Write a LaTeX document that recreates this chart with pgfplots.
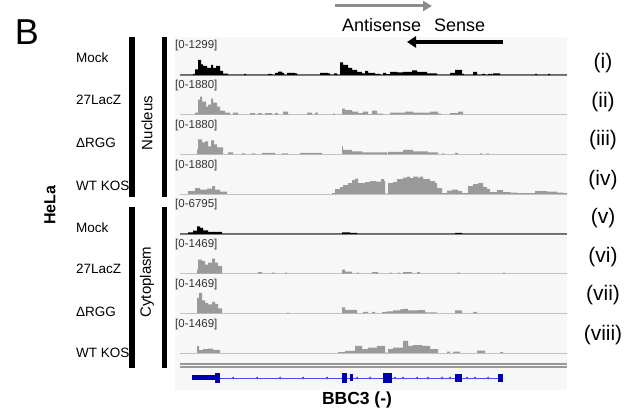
\documentclass[border=0pt]{standalone}
\usepackage{pgfplots}
\pgfplotsset{compat=1.18}
\usepackage{fontspec}
\setmainfont{Liberation Sans}
\usetikzlibrary{arrows.meta}

\definecolor{trkgray}{HTML}{9A9A9A}
\definecolor{bgcol}{HTML}{F7F7F7}
\definecolor{baselt}{HTML}{C8C8C8}
\definecolor{basedk}{HTML}{7A7A7A}
\definecolor{exon}{HTML}{0000B0}
\definecolor{intron}{HTML}{4A4AF0}

\pgfplotsset{trk/.style={anchor=south west, width=387pt, height=30pt,
    scale only axis, xmin=180, xmax=567, ymin=0, ymax=30,
    axis lines=none, clip=false}}

% #1 baseline (px from top), #2 fill, #3 range label, #4 data, #5 baseline style
\newcommand{\track}[5]{%
  \begin{axis}[trk, at={(180pt,{(419-#1)*1pt})}]
    \addplot[#5] coordinates {(180,0) (567,0)};
    \addplot[const plot, fill=#2, draw=none] coordinates {#4} \closedcycle;
    \node[anchor=west, inner sep=0pt, font=\fontsize{11.5}{11.5}\selectfont, text=black!80]
      at (axis cs:175,29) {#3};
  \end{axis}}

\begin{document}
\begin{tikzpicture}[x=1pt, y=1pt]
\path (0,0) rectangle (631,419);
\fill[bgcol] (175,382) rectangle (567,29);

% (i) nucleus mock
\track{75}{black}{[0-1299]}{(180,0)(193,1)(195,5.7)(198,15)(201,10.7)(203,9)(207,7)(211,10)(213,7)(216,9)(220,4)(223,1.3)(228,0)(244,1)(246,0)(268,1)(272,0)(275,2)(278,3.3)(282,2)(284,0)(287,2)(295,1.5)(297,0)(320,2)(328,1.5)(330,0)(334,1.5)(337,0)(340,12.5)(343,10)(348,7)(352,5)(357,3)(362,1.5)(365,4)(368,2)(375,1)(380,0)(383,2)(386,0.8)(390,3)(397,2.5)(403,3)(412,4.5)(417,3)(427,1.5)(437,0)(450,2)(455,5)(462,1)(464,0)(473,3)(477,0)(482,1)(485,0)(488,1)(492,0)(493,1.5)(500,0)(535,1)(537,0)(548,1)(550,0)(567,0)}{basedk, line width=1.3pt}

% (ii)
\track{114.75}{trkgray}{[0-1880]}{(180,0)(195,2)(198,15)(200,18)(202,13)(206,8)(208,10)(211,16)(213,12)(217,8)(220,4)(225,2)(230,0)(233,2)(238,0)(250,1.5)(255,0)(258,1.5)(262,0)(265,1.5)(272,0)(275,1.5)(278,0)(283,3)(288,0)(307,2)(312,0)(315,2)(318,0)(333,1)(335,0)(342,6)(345,4.5)(352,3)(358,1.5)(363,3)(368,0.5)(372,4)(377,1)(383,0)(390,2)(405,3)(413,2)(430,3)(438,1)(441,0)(450,1.5)(458,3)(463,0)(567,0)}{baselt, line width=1pt}

% (iii)
\track{154.5}{trkgray}{[0-1880]}{(180,0)(197,5)(198,15)(202,12)(205,13)(208,8)(211,14)(214,10)(217,7)(223,0)(228,2)(233,0)(242,1)(245,0)(252,1)(255,0)(262,1.5)(275,0)(282,1)(288,0)(300,1.5)(322,0)(342,8)(343,4.5)(352,3)(362,2)(370,2)(387,0.5)(388,2.5)(403,4.5)(413,3)(428,2)(438,0)(442,1)(444,0)(455,1.5)(458,0)(480,1)(482,0)(487,1)(489,0)(567,0)}{baselt, line width=1pt}

% (iv)
\track{194.25}{trkgray}{[0-1880]}{(180,0)(188,3)(195,6)(200,4.5)(207,5.5)(212,8)(215,4.5)(220,2.5)(227,0)(332,1)(335,5)(340,7)(343,9)(348,11)(352,14)(355,15.5)(358,11)(365,12)(370,13)(376,12.5)(381,15)(384,13)(385,0.5)(388,11)(393,12)(397,15)(403,16.5)(407,17.7)(410,16)(413,17.7)(418,16.5)(420,17.5)(423,15)(430,13)(435,11)(437,6)(442,1)(447,3.5)(452,4.5)(458,3)(462,1)(468,8)(473,10)(478,11)(483,7)(487,5)(490,2)(497,4)(503,2)(510,1.5)(517,1)(535,3)(547,2.5)(557,1.5)(563,1)(567,0)}{baselt, line width=1pt}

% (v) cytoplasm mock
\track{234}{black}{[0-6795]}{(180,0)(188,1.5)(193,3.3)(197,7.7)(200,6)(203,3.7)(208,2)(222,0)(342,1.5)(350,1)(357,0)(455,1)(462,0)(567,0)}{basedk, line width=1.3pt}

% (vi)
\track{273.75}{trkgray}{[0-1469]}{(180,0)(197,4)(198,14)(202,12.7)(205,9)(208,11)(212,15)(215,11)(218,7.7)(222,0)(258,1.5)(262,0)(272,1)(275,0)(285,1)(287,0)(342,4)(345,2)(352,0)(357,1)(359,0)(372,1.5)(378,0)(390,1)(392,0)(398,1)(400,0)(403,1.5)(412,0)(417,1.5)(420,0)(457,1)(460,0)(503,1)(505,0)(567,0)}{baselt, line width=1pt}

% (vii)
\track{313.5}{trkgray}{[0-1469]}{(180,0)(197,15.7)(199,20.7)(202,13)(205,10.7)(208,9)(212,11.7)(215,9.7)(218,5)(222,0)(287,0.8)(289,0)(342,6)(345,3.5)(352,3.7)(357,0)(363,1.5)(368,0)(372,1.5)(375,0)(382,1.5)(387,2)(393,3)(400,4)(403,4.5)(408,3)(418,3.3)(425,1)(437,0)(455,3)(462,0)(473,1.5)(477,0)(567,0)}{baselt, line width=1pt}

% (viii)
\track{353.25}{trkgray}{[0-1469]}{(180,0)(197,7.3)(199,3)(203,4)(208,4.7)(213,3.3)(220,0)(338,1)(345,2.3)(355,7.3)(362,4)(368,5.7)(377,7.3)(385,0.5)(388,4)(393,5.7)(403,12.3)(408,7.3)(413,8)(422,7.3)(430,4)(438,0)(447,1.5)(450,0)(453,1.5)(460,0)(477,2.5)(485,0)(500,1)(503,0)(567,0)}{baselt, line width=1pt}

% gene model
\begin{axis}[anchor=south west, at={(180pt,31pt)}, width=387pt, height=20pt,
    scale only axis, xmin=180, xmax=567, ymin=-10, ymax=10,
    axis lines=none, clip=false]
  \addplot[black!40, line width=1.2pt] coordinates {(180,14) (567,14)};
  \addplot[black!40, line width=1.2pt] coordinates {(180,11) (567,11)};
  \addplot[intron, line width=0.7pt] coordinates {(215,0) (500,0)};
  \addplot[only marks, mark=triangle*, mark size=1.2pt, intron,
    mark options={rotate=90}] coordinates {(233,0)(257,0)(280,0)(303,0)(327,0)(357,0)(370,0)(395,0)(403,0)(417,0)(428,0)(442,0)(450,0)(467,0)(475,0)(488,0)};
  \addplot[exon, line width=5pt] coordinates {(192,0) (215,0)};
  \addplot[exon, line width=10pt] coordinates {(215,0) (220,0)};
  \addplot[exon, line width=10pt] coordinates {(342,0) (347,0)};
  \addplot[exon, line width=7pt] coordinates {(350,0) (353,0)};
  \addplot[exon, line width=10pt] coordinates {(383,0) (392,0)};
  \addplot[exon, line width=8pt] coordinates {(455,0) (462,0)};
  \addplot[exon, line width=8pt] coordinates {(498,0) (503,0)};
\end{axis}

% top arrows
\draw[line width=3pt, black!45, -{Triangle[length=9pt, width=10pt]}] (335,413) -- (432,413);
\draw[line width=3.5pt, black, -{Triangle[length=9pt, width=11pt]}] (503,377) -- (407,377);
\node[anchor=west, inner sep=0pt, font=\fontsize{18}{18}\selectfont] at (342,394) {Antisense};
\node[anchor=west, inner sep=0pt, font=\fontsize{18}{18}\selectfont] at (434,394) {Sense};

% left side
\node[font=\fontsize{36}{36}\selectfont] at (27,387) {B};
\node[rotate=90, font=\bfseries\fontsize{16}{16}\selectfont] at (50,214) {HeLa};
\fill[black] (129,382) rectangle (135,222);
\fill[black] (129,212) rectangle (135,51);
\fill[black] (162,382) rectangle (167,222);
\fill[black] (162,212) rectangle (167,51);
\node[rotate=90, font=\fontsize{15}{15}\selectfont] at (147,296) {Nucleus};
\node[rotate=90, font=\fontsize{15}{15}\selectfont] at (147,137) {Cytoplasm};
\foreach \y/\t in {361/Mock, 319/27LacZ, 276/ΔRGG, 233/WT KOS, 191/Mock, 150/27LacZ, 107/ΔRGG, 66/WT KOS}
  \node[anchor=west, inner sep=0pt, font=\fontsize{13.5}{13.5}\selectfont] at (76,\y) {\t};

% right labels
\foreach \y/\t in {356/(i), 317/(ii), 279/(iii), 239/(iv), 201/(v), 162/(vi), 124/(vii), 84/(viii)}
  \node[font=\fontsize{21}{21}\selectfont] at (603,\y) {\t};

\node[font=\bfseries\fontsize{17.5}{17.5}\selectfont] at (357,19) {BBC3 (-)};
\end{tikzpicture}
\end{document}
